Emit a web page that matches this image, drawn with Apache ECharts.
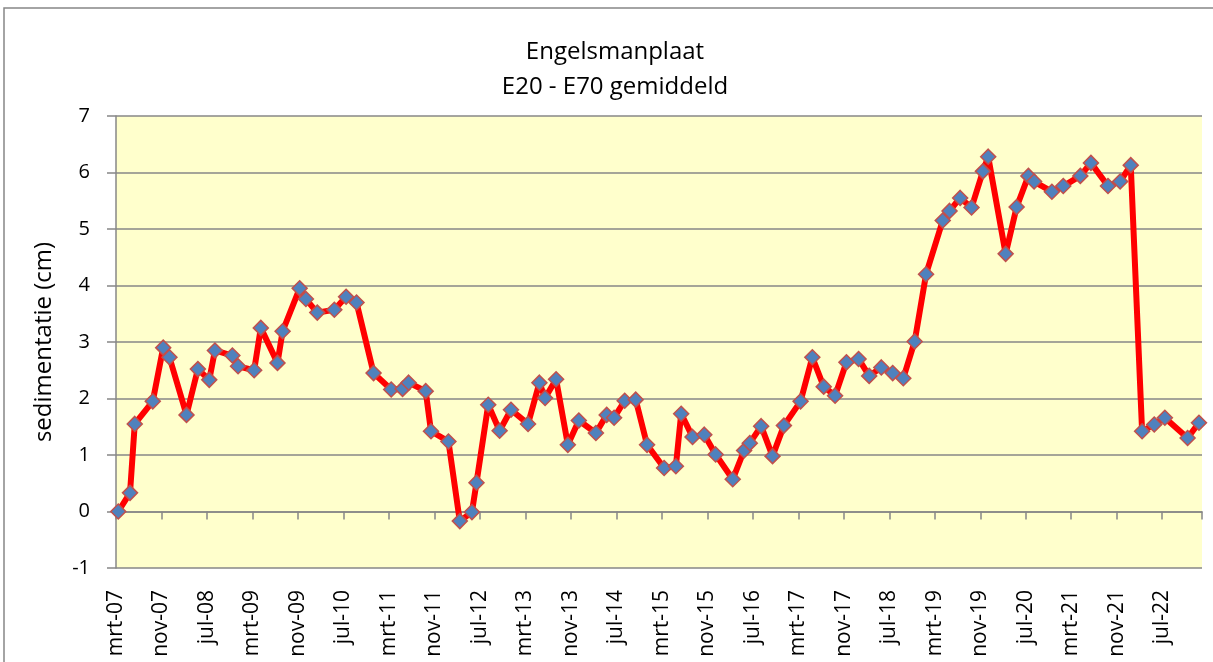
<!DOCTYPE html>
<html>
<head>
<meta charset="utf-8">
<script src="https://cdn.jsdelivr.net/npm/echarts@6/dist/echarts.min.js"></script>
<style>
html, body { margin: 0; padding: 0; background: #fff; }
#chart { width: 1213px; height: 662px; }
</style>
</head>
<body>
<div id="chart"></div>
<script>
// meetdatum (approx.) en gemiddelde sedimentatie E20 - E70
var sampleDates = [
    '2007-03-13', '2007-05-15', '2007-06-10', '2007-09-15', '2007-11-10', '2007-12-13',
    '2008-03-13', '2008-05-13', '2008-07-13', '2008-08-13', '2008-11-15', '2008-12-15',
    '2009-03-10', '2009-04-15', '2009-07-13', '2009-08-10', '2009-11-10', '2009-12-13',
    '2010-02-13', '2010-05-13', '2010-07-15', '2010-09-10', '2010-12-10',
    '2011-03-13', '2011-05-13', '2011-06-15', '2011-09-15', '2011-10-13',
    '2012-01-15', '2012-03-15', '2012-05-19', '2012-06-13', '2012-08-15', '2012-10-15', '2012-12-15',
    '2013-03-15', '2013-05-15', '2013-06-15', '2013-08-13', '2013-10-15', '2013-12-13',
    '2014-03-13', '2014-05-10', '2014-06-19', '2014-08-15', '2014-10-13', '2014-12-13',
    '2015-03-13', '2015-05-15', '2015-06-13', '2015-08-13', '2015-10-15', '2015-12-15',
    '2016-03-15', '2016-05-15', '2016-06-15', '2016-08-15', '2016-10-15', '2016-12-15',
    '2017-03-13', '2017-05-15', '2017-07-15', '2017-09-15', '2017-11-15',
    '2018-01-19', '2018-03-15', '2018-05-19', '2018-07-19', '2018-09-15', '2018-11-15',
    '2019-01-15', '2019-04-13', '2019-05-19', '2019-07-15', '2019-09-15', '2019-11-15', '2019-12-13',
    '2020-03-15', '2020-05-13', '2020-07-15', '2020-08-15', '2020-11-19',
    '2021-01-19', '2021-04-19', '2021-06-15', '2021-09-15', '2021-11-19',
    '2022-01-15', '2022-03-15', '2022-05-19', '2022-07-15', '2022-11-15', '2023-01-15'
];
var sedimentatie = [
    0.00, 0.33, 1.55, 1.95, 2.90, 2.73,
    1.71, 2.52, 2.33, 2.85, 2.76, 2.57,
    2.50, 3.25, 2.63, 3.19, 3.95, 3.76,
    3.52, 3.57, 3.80, 3.70, 2.45,
    2.16, 2.17, 2.28, 2.13, 1.42,
    1.24, -0.17, -0.01, 0.51, 1.89, 1.43, 1.80,
    1.55, 2.28, 2.01, 2.34, 1.18, 1.61,
    1.39, 1.71, 1.66, 1.96, 1.98, 1.18,
    0.77, 0.80, 1.73, 1.32, 1.36, 1.01,
    0.57, 1.08, 1.21, 1.51, 0.98, 1.52,
    1.95, 2.73, 2.21, 2.05, 2.64,
    2.70, 2.40, 2.55, 2.45, 2.36, 3.01,
    4.20, 5.15, 5.32, 5.55, 5.38, 6.02, 6.28,
    4.56, 5.39, 5.94, 5.84, 5.66,
    5.76, 5.94, 6.17, 5.76, 5.84,
    6.13, 1.42, 1.54, 1.66, 1.30, 1.57
];
var tickLabels = [
    'mrt-07', 'nov-07', 'jul-08', 'mrt-09', 'nov-09', 'jul-10', 'mrt-11', 'nov-11',
    'jul-12', 'mrt-13', 'nov-13', 'jul-14', 'mrt-15', 'nov-15', 'jul-16', 'mrt-17',
    'nov-17', 'jul-18', 'mrt-19', 'nov-19', 'jul-20', 'mrt-21', 'nov-21', 'jul-22'
];
var monthsPerTick = 8;
var axisEndMonth = 191;  // months after mrt-07 where the plot ends

// months since 1 March 2007
var toMonth = function (s) {
    var p = s.split('-');
    return (parseInt(p[0], 10) - 2007) * 12 + (parseInt(p[1], 10) - 3) + (parseInt(p[2], 10) - 1) / 30;
};
var seriesData = sampleDates.map(function (d, i) {
    return [toMonth(d), sedimentatie[i]];
});

var fontName = 'Open Sans';
var gridColor = '#878787';

var chart = echarts.init(document.getElementById('chart'));
var option = {
    backgroundColor: '#ffffff',
    animation: false,
    title: {
        text: 'Engelsmanplaat\nE20 - E70 gemiddeld',
        left: 610,
        top: 30,
        textAlign: 'center',
        textStyle: {
            fontFamily: fontName,
            fontSize: 24,
            fontWeight: 'normal',
            color: '#000',
            lineHeight: 35
        }
    },
    graphic: [
        {
            type: 'rect',
            shape: { x: 4, y: 8, width: 1400, height: 800 },
            style: { fill: null, stroke: gridColor, lineWidth: 1.5 },
            silent: true
        }
    ],
    grid: {
        left: 116,
        right: 11,
        top: 116,
        bottom: 94,
        show: true,
        backgroundColor: '#FFFFCC',
        borderWidth: 0,
        containLabel: false,
        outerBoundsMode: 'none'
    },
    xAxis: [
        {
            type: 'value',
            min: 0,
            max: axisEndMonth,
            interval: monthsPerTick,
            position: 'bottom',
            axisLine: { show: false, onZero: false },
            axisTick: { show: false },
            splitLine: { show: false },
            axisLabel: {
                rotate: 90,
                margin: 22,
                fontFamily: fontName,
                fontSize: 21,
                color: '#000',
                showMaxLabel: false,
                formatter: function (v) {
                    var i = v / monthsPerTick;
                    return (i === Math.round(i) && tickLabels[i]) ? tickLabels[i] : '';
                }
            }
        },
        {
            type: 'value',
            min: 0,
            max: axisEndMonth,
            interval: monthsPerTick,
            position: 'bottom',
            axisLine: { show: true, onZero: true, onZeroAxisIndex: 0, lineStyle: { color: gridColor, width: 1.5 } },
            axisTick: { show: true, length: 8, lineStyle: { color: gridColor, width: 1.5 } },
            axisLabel: { show: false },
            splitLine: { show: false }
        }
    ],
    yAxis: {
        type: 'value',
        min: -1,
        max: 7,
        interval: 1,
        name: 'sedimentatie (cm)',
        nameLocation: 'middle',
        nameGap: 60,
        nameTextStyle: { fontFamily: fontName, fontSize: 24, color: '#000' },
        axisLine: { show: true, onZero: false, lineStyle: { color: gridColor, width: 1.5 } },
        axisTick: { show: true, length: 9, lineStyle: { color: gridColor, width: 1.5 } },
        axisLabel: { margin: 26, fontFamily: fontName, fontSize: 20, color: '#000' },
        splitLine: { show: true, lineStyle: { color: gridColor, width: 1.5 } }
    },
    series: [
        {
            name: 'E20 - E70 gemiddeld',
            type: 'line',
            xAxisIndex: 0,
            data: seriesData,
            lineStyle: { color: '#FF0000', width: 6 },
            symbol: 'diamond',
            symbolSize: 15,
            showAllSymbol: true,
            itemStyle: { color: '#4F81BD', borderColor: '#C0504D', borderWidth: 1.5 }
        }
    ]
};
chart.setOption(option);
</script>
</body>
</html>
